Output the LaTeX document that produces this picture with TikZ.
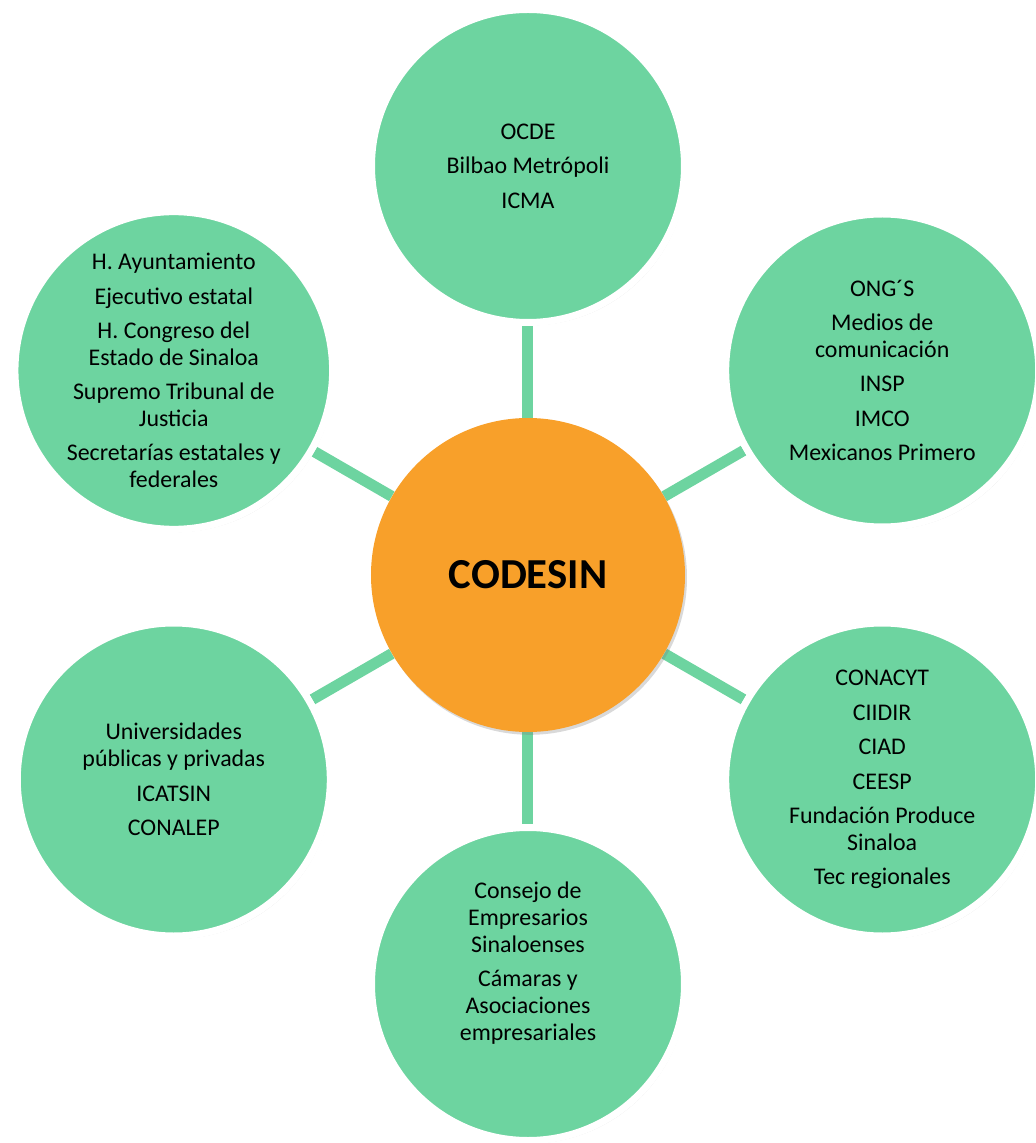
\documentclass[tikz,border=0pt]{standalone}
\usepackage{fontspec}
\setmainfont{Carlito}
\usepackage{tikz}
\usetikzlibrary{positioning,shadows,backgrounds}
\definecolor{leaf}{RGB}{109,212,160}
\definecolor{hubfill}{RGB}{248,160,42}
\definecolor{rim}{RGB}{255,255,255}
\tikzset{
  member/.style={circle, fill=leaf, draw=rim, line width=0.175cm,
                 minimum size=7.825cm, inner sep=0pt, align=center,
                 font=\fontsize{17}{19}\selectfont,
                 drop shadow={opacity=0.3, shadow xshift=0.05cm, shadow yshift=-0.07cm}},
  hub/.style={circle, fill=hubfill, minimum size=7.85cm, inner sep=0pt,
              font=\fontsize{30.4}{36}\selectfont\bfseries,
              drop shadow={opacity=0.3, shadow xshift=0.05cm, shadow yshift=-0.07cm}},
  txt/.style={align=center, font=\fontsize{17}{19}\selectfont},
  spoke/.style={leaf, line width=0.275cm},
}
\newcommand{\gap}{\\[5.5pt]}

\begin{document}
\begin{tikzpicture}
  \useasboundingbox (-13.2,-14.2) rectangle (12.7,14.375);
  \node[hub] (codesin) at (0,0) {CODESIN};
  \node[member] (intl) at (90:10.225) {OCDE\gap Bilbao Metrópoli\gap ICMA};
  \node[member] (gob) at (150:10.225) {H. Ayuntamiento\gap Ejecutivo estatal\gap
    H. Congreso del\\Estado de Sinaloa\gap Supremo Tribunal de\\Justicia\gap
    Secretarías estatales y\\federales};
  \node[member] (soc) at (30:10.225) {ONG´S\gap Medios de\\comunicación\gap INSP\gap
    IMCO\gap Mexicanos Primero};
  \node[member] (cien) at (-30:10.225) {CONACYT\gap CIIDIR\gap CIAD\gap CEESP\gap
    Fundación Produce\\Sinaloa\gap Tec regionales};
  \node[member] (edu) at (-150:10.225) {Universidades\\públicas y privadas\gap
    ICATSIN\gap CONALEP};
  \node[member] (emp) at (-90:10.225) {};
  \node[txt] (empT) at ([yshift=0.52cm]emp) {Consejo de\\Empresarios\\Sinaloenses\gap
    Cámaras y\\Asociaciones\\empresariales};
  % spokes behind the circles
  \begin{scope}[on background layer]
    \foreach \n in {intl,gob,soc,cien,edu,emp}
      \draw[spoke] (codesin) -- (\n);
  \end{scope}
\end{tikzpicture}
\end{document}
